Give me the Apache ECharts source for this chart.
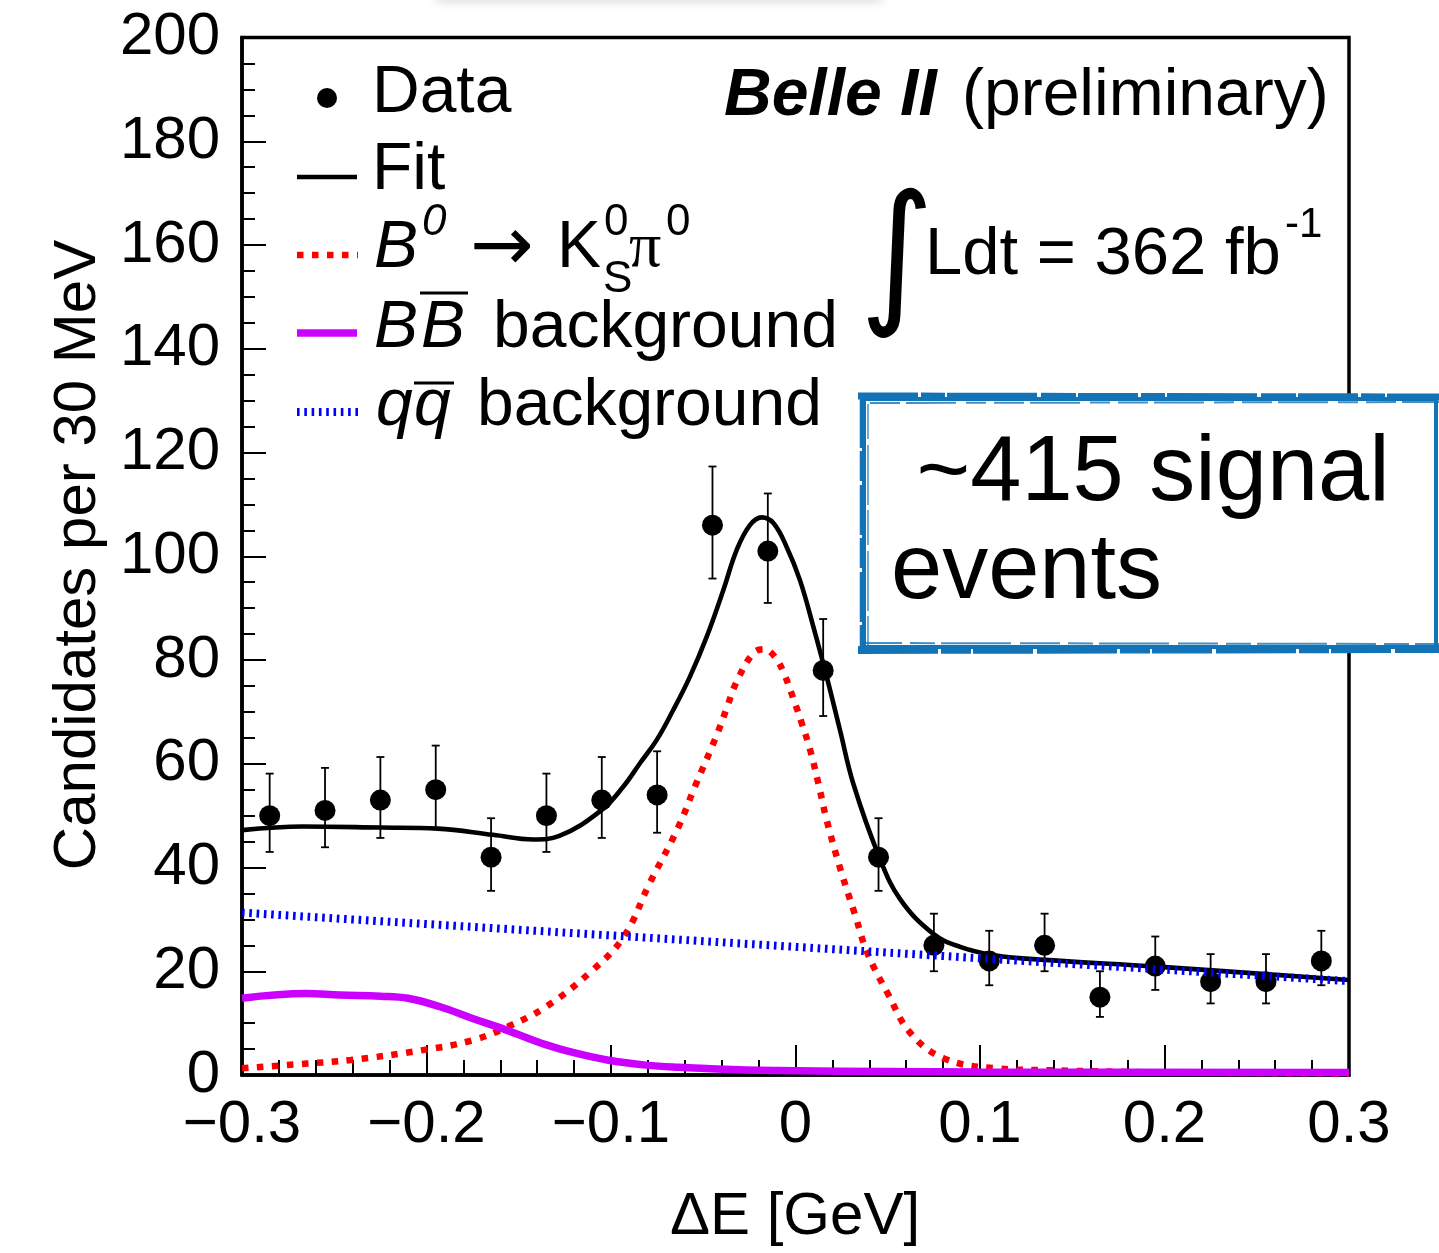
<!DOCTYPE html>
<html>
<head>
<meta charset="utf-8">
<script src="https://cdn.jsdelivr.net/npm/echarts@6/dist/echarts.min.js"></script>
<style>
  html, body { margin: 0; padding: 0; background: #fff; }
  #chart { width: 1439px; height: 1253px; }
</style>
</head>
<body>
<div id="chart"></div>
<script>
// Delta-E distribution, 30 MeV bins
const binCenters = [-0.285, -0.255, -0.225, -0.195, -0.165, -0.135, -0.105, -0.075, -0.045, -0.015,
                     0.015,  0.045,  0.075,  0.105,  0.135,  0.165,  0.195,  0.225,  0.255,  0.285];
const counts   = [50, 51, 53, 55, 42, 50, 53, 54, 106, 101, 78, 42, 25, 22, 25, 15, 21, 18, 18, 22];
const errHigh  = [8.1, 8.2, 8.3, 8.5, 7.5, 8.1, 8.3, 8.4, 11.3, 11.1, 9.9, 7.5, 6.1, 5.8, 6.1, 5.0, 5.7, 5.3, 5.3, 5.8];
const errLow   = [7.0, 7.1, 7.3, 7.4, 6.5, 7.0, 7.3, 7.3, 10.3, 10.0, 8.8, 6.5, 5.0, 4.7, 5.0, 3.8, 4.6, 4.2, 4.2, 4.7];

// Total fit
const fitX = [-0.300, -0.267, -0.225, -0.194, -0.164, -0.142, -0.128, -0.105, -0.0933, -0.0843, -0.0752, -0.0662,
              -0.0572, -0.0481, -0.0391, -0.0319, -0.0247, -0.0183, -0.0120, -0.0048, 0.0024, 0.0097, 0.0169, 0.0241,
               0.0313, 0.0453, 0.0567, 0.0747, 0.0892, 0.1077, 0.135, 0.196, 0.300];
const fitY = [47.2, 47.9, 47.7, 47.5, 46.3, 45.4, 46.1, 51.1, 55.6, 60.1, 64.6, 70.4,
              76.8, 84.5, 93.5, 101.2, 106.0, 107.5, 106.4, 101.8, 95.4, 86.4, 76.8, 66.5,
              56.2, 42.1, 33.9, 27.2, 24.7, 23.1, 22.2, 20.9, 18.3];

// Signal component B0 -> KS pi0
const sigX = [-0.300, -0.265, -0.241, -0.202, -0.175, -0.156, -0.135, -0.110, -0.093, -0.079, -0.064, -0.0545,
              -0.0427, -0.0373, -0.0319, -0.0229, -0.0171, -0.0111, -0.0066, -0.0012, 0.0034, 0.0079, 0.0124, 0.017,
               0.0245, 0.032, 0.039, 0.050, 0.0625, 0.0805, 0.108, 0.140, 0.200, 0.300];
const sigY = [1.3, 2.2, 2.9, 4.8, 6.7, 9.3, 13.2, 20.2, 26.7, 37.0, 47.4, 55.6,
              65.5, 70.7, 75.8, 81.3, 82.1, 80.6, 77.7, 72.6, 67.8, 62.7, 56.2, 49.0,
              39.5, 31.2, 23.5, 15.7, 8.0, 3.2, 1.3, 0.9, 0.5, 0.3];

// BBbar background
const bbX = [-0.300, -0.265, -0.247, -0.225, -0.210, -0.193, -0.175, -0.157, -0.135, -0.120, -0.102, -0.081, -0.063, -0.020, 0.100, 0.300];
const bbY = [14.8, 15.7, 15.4, 15.2, 14.8, 13.2, 10.9, 8.7, 5.8, 4.3, 2.9, 1.9, 1.5, 0.9, 0.6, 0.5];

// Continuum qqbar background
const qqX = [-0.300, 0.000, 0.300];
const qqY = [31.3, 24.7, 18.1];

const xTickLabels = ['\u22120.3', '\u22120.2', '\u22120.1', '0', '0.1', '0.2', '0.3'];

const SANS = '"Liberation Sans", Arial, Helvetica, sans-serif';
const SERIF = '"Liberation Serif", "Times New Roman", serif';
const DEJAVU = '"DejaVu Sans", sans-serif';

const zip = (xs, ys) => xs.map((x, i) => [x, ys[i]]);

function txt(x, y, text, size, style, extra) {
  return Object.assign({
    type: 'text', x: x, y: y, z: 100, silent: true,
    style: Object.assign({
      text: text, fontSize: size, fontFamily: SANS, fill: '#000',
      align: 'left', verticalAlign: 'middle'
    }, style || {})
  }, extra || {});
}
function seg(x1, y1, x2, y2, style) {
  return {
    type: 'line', z: 100, silent: true,
    shape: { x1: x1, y1: y1, x2: x2, y2: y2 },
    style: Object.assign({ stroke: '#000', lineWidth: 3 }, style || {})
  };
}

const BOX_BLUE = '#1373b7';

const graphics = [
  // faint shadow of an element above the page edge
  { type: 'rect', z: 1, silent: true, shape: { x: 436, y: -40, width: 446, height: 40 },
    style: { fill: '#fff', shadowBlur: 10, shadowColor: 'rgba(0,0,0,0.16)', shadowOffsetY: 1 } },

  // legend markers
  { type: 'circle', z: 100, silent: true, shape: { cx: 327, cy: 98, r: 10 }, style: { fill: '#000' } },
  seg(297, 177, 357, 177, { lineWidth: 4.5 }),
  seg(297, 255, 358, 255, { stroke: '#ff0000', lineWidth: 6.5, lineDash: [6.5, 8.5] }),
  seg(297, 333, 357, 333, { stroke: '#cc00ff', lineWidth: 7.5 }),
  seg(297, 412, 358, 412, { stroke: '#0000ff', lineWidth: 8, lineDash: [2.6, 4.7] }),

  // legend texts
  txt(372, 94, 'Data', 66),
  txt(372, 171, 'Fit', 66),

  txt(374, 249, 'B', 66, { fontStyle: 'italic' }),
  txt(422, 223, '0', 44, { fontStyle: 'italic' }),
  txt(470, 250, '\u2192', 76, { fontFamily: DEJAVU }),
  txt(557, 249, 'K', 66),
  txt(604, 223, '0', 44),
  txt(603, 280, 'S', 44),
  txt(629, 249, '\u03c0', 64, { fontFamily: SERIF }),
  txt(666, 223, '0', 44),

  txt(374, 329, 'B', 66, { fontStyle: 'italic' }),
  txt(421, 329, 'B', 66, { fontStyle: 'italic' }),
  seg(420, 293, 468, 293, { lineWidth: 3 }),
  txt(493, 329, 'background', 66),

  txt(376, 407, 'q', 66, { fontStyle: 'italic' }),
  txt(414, 407, 'q', 66, { fontStyle: 'italic' }),
  seg(414, 383, 454, 383, { lineWidth: 3 }),
  txt(477, 407, 'background', 66),

  // experiment label
  txt(724, 97, 'Belle II', 66, { fontStyle: 'italic', fontWeight: 'bold' }),
  txt(962, 97, '(preliminary)', 66),

  // integrated luminosity
  txt(897, 265, '\u222b', 124, { fontFamily: DEJAVU, align: 'center' }, { scaleX: 1.15, scaleY: 1.25 }),
  txt(925, 256, 'Ldt = 362 fb', 67),
  txt(1285, 225, '-1', 42),

  // annotation box with brushed border
  { type: 'rect', z: 99, silent: true, shape: { x: 864, y: 399, width: 572, height: 248 },
    style: { fill: '#fff', stroke: BOX_BLUE, lineWidth: 4 } },
  seg(858, 396, 1439, 397, { stroke: BOX_BLUE, lineWidth: 7, lineDash: [60, 3, 24, 2, 90, 4, 35, 2] }),
  seg(870, 403, 1439, 402, { stroke: BOX_BLUE, lineWidth: 2, lineDash: [30, 6, 50, 10, 20, 8], opacity: 0.8 }),
  seg(858, 650, 1439, 649, { stroke: BOX_BLUE, lineWidth: 8, lineDash: [80, 3, 30, 2, 60, 4] }),
  seg(862, 643, 1439, 644, { stroke: BOX_BLUE, lineWidth: 2, lineDash: [40, 8, 25, 6, 70, 9], opacity: 0.8 }),
  seg(861, 398, 861, 652, { stroke: BOX_BLUE, lineWidth: 2.5, lineDash: [50, 3, 30, 4] }),
  seg(868, 404, 868, 646, { stroke: BOX_BLUE, lineWidth: 1.5, lineDash: [35, 6, 60, 5], opacity: 0.8 }),
  seg(1437, 398, 1437, 650, { stroke: BOX_BLUE, lineWidth: 1.5 }),
  txt(891, 475, ' ~415 signal', 92),
  txt(891, 573, 'events', 92),

  // axis titles
  txt(78, 555, 'Candidates per 30 MeV', 60, { align: 'center' }, { rotation: Math.PI / 2 }),
  txt(795, 1217, '\u0394E [GeV]', 60, { align: 'center' })
];

const chart = echarts.init(document.getElementById('chart'), null, { renderer: 'canvas' });

const curveCommon = { type: 'line', silent: true, showSymbol: false, smooth: 0.4, z: 3 };

chart.setOption({
  backgroundColor: '#fff',
  animation: false,
  grid: { left: 242, right: 90, top: 37.5, bottom: 178, show: true, borderColor: '#000', borderWidth: 3.5, backgroundColor: 'transparent' },
  xAxis: {
    type: 'value', min: -0.3, max: 0.3, interval: 0.1,
    axisLine: { show: true, onZero: false, lineStyle: { color: '#000', width: 3.5 } },
    axisTick: { show: true, inside: true, length: 30, lineStyle: { color: '#000', width: 2 } },
    minorTick: { show: true, splitNumber: 5, length: 15, lineStyle: { color: '#000', width: 2 } },
    splitLine: { show: false },
    minorSplitLine: { show: false },
    axisLabel: {
      fontSize: 60, fontFamily: SANS, color: '#000', margin: 20,
      showMinLabel: true, showMaxLabel: true,
      formatter: function (v) { return xTickLabels[Math.round((v + 0.3) / 0.1)]; }
    }
  },
  yAxis: {
    type: 'value', min: 0, max: 200, interval: 20,
    axisLine: { show: true, onZero: false, lineStyle: { color: '#000', width: 3.5 } },
    axisTick: { show: true, inside: true, length: 24, lineStyle: { color: '#000', width: 2 } },
    minorTick: { show: true, splitNumber: 4, length: 13, lineStyle: { color: '#000', width: 2 } },
    splitLine: { show: false },
    minorSplitLine: { show: false },
    axisLabel: { fontSize: 60, fontFamily: SANS, color: '#000', margin: 22, showMinLabel: true, showMaxLabel: true }
  },
  graphic: graphics,
  series: [
    {
      name: 'errors', type: 'custom', silent: true, z: 2,
      data: binCenters.map((x, i) => [x, counts[i], errLow[i], errHigh[i]]),
      encode: { x: 0, y: 1 },
      renderItem: function (params, api) {
        const x = api.value(0), y = api.value(1), lo = api.value(2), hi = api.value(3);
        const top = api.coord([x, y + hi]);
        const bot = api.coord([x, y - lo]);
        const cap = 4;
        const st = { stroke: '#000', lineWidth: 1.8 };
        return {
          type: 'group', children: [
            { type: 'line', shape: { x1: top[0], y1: top[1], x2: bot[0], y2: bot[1] }, style: st },
            { type: 'line', shape: { x1: top[0] - cap, y1: top[1], x2: top[0] + cap, y2: top[1] }, style: st },
            { type: 'line', shape: { x1: bot[0] - cap, y1: bot[1], x2: bot[0] + cap, y2: bot[1] }, style: st }
          ]
        };
      }
    },
    {
      name: 'Data', type: 'scatter', silent: true, z: 2,
      data: zip(binCenters, counts),
      symbol: 'circle', symbolSize: 21,
      itemStyle: { color: '#000', opacity: 1 }
    },
    Object.assign({}, curveCommon, {
      name: 'Fit', data: zip(fitX, fitY),
      lineStyle: { color: '#000', width: 4.6 }
    }),
    Object.assign({}, curveCommon, {
      name: 'Signal', data: zip(sigX, sigY),
      lineStyle: { color: '#ff0000', width: 6.5, type: [6.5, 8.5] }
    }),
    Object.assign({}, curveCommon, {
      name: 'BBbar', data: zip(bbX, bbY),
      lineStyle: { color: '#cc00ff', width: 7.5 }
    }),
    Object.assign({}, curveCommon, {
      name: 'qqbar', data: zip(qqX, qqY), smooth: false,
      lineStyle: { color: '#0000ff', width: 8, type: [2.6, 4.7] }
    })
  ]
});
</script>
</body>
</html>
